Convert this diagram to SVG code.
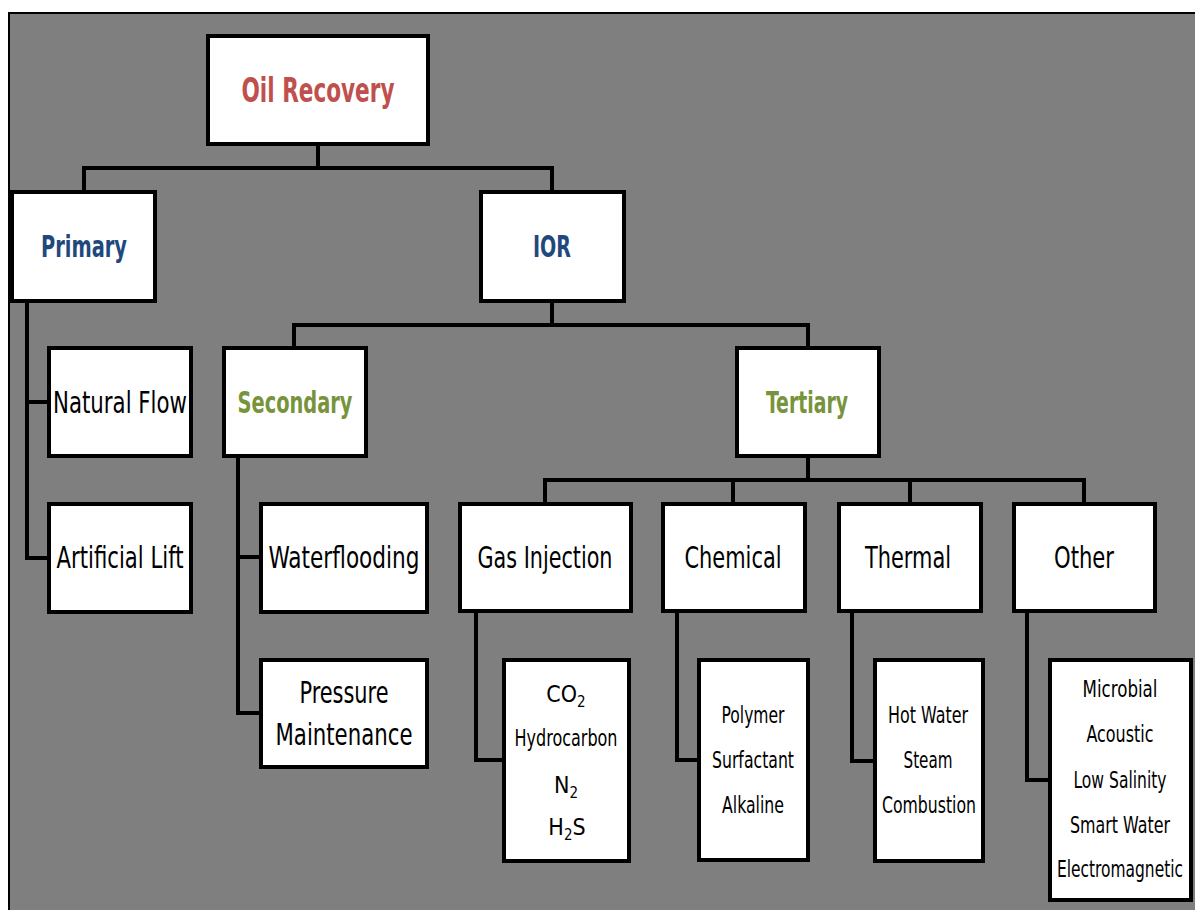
<svg xmlns="http://www.w3.org/2000/svg" width="1195" height="910" viewBox="0 0 1195 910">
<style>
.box{fill:#fff;stroke:#000;stroke-width:4}
.con{fill:none;stroke:#000;stroke-width:4;stroke-linecap:square}
text{font-family:"Liberation Sans Narrow","DejaVu Sans Condensed","Liberation Sans",sans-serif;text-anchor:middle;fill:#000}
.big{font-size:30px}
.sm{font-size:23px}
.red{fill:#c0504d;font-size:33px;font-weight:bold}
.blue{fill:#1f497d;font-weight:bold}
.green{fill:#77933c;font-weight:bold}
</style>
<rect x="0" y="0" width="1195" height="910" fill="#fff"/>
<rect x="9" y="13" width="1200" height="910" fill="#7f7f7f" stroke="#000" stroke-width="2"/>
<g id="connectors">
<path class="con" d="M318 146V168M84 190V168H552V190"/>
<path class="con" d="M27 303V558H47M27 402H47"/>
<path class="con" d="M552 303V325M294 346V325H808V346"/>
<path class="con" d="M238 458V713H259M238 557H259"/>
<path class="con" d="M808 458V480M545 502V480H1084V502M733 480V502M910 480V502"/>
<path class="con" d="M476 613V760H502"/>
<path class="con" d="M677 613V760H697"/>
<path class="con" d="M852 613V761H873"/>
<path class="con" d="M1027 613V780H1048"/>
</g>
<g id="oil-recovery"><rect class="box" x="208" y="36" width="220" height="108"/><text class="red" x="318" y="102" textLength="153" lengthAdjust="spacingAndGlyphs">Oil Recovery</text></g>
<g id="primary"><rect class="box" x="12" y="192" width="143" height="109"/><text class="big blue" x="84" y="257" textLength="86" lengthAdjust="spacingAndGlyphs">Primary</text></g>
<g id="ior"><rect class="box" x="481" y="192" width="143" height="109"/><text class="big blue" x="552" y="257" textLength="38" lengthAdjust="spacingAndGlyphs">IOR</text></g>
<g id="natural-flow"><rect class="box" x="49" y="348" width="142" height="108"/><text class="big" x="120" y="413" textLength="134" lengthAdjust="spacingAndGlyphs">Natural Flow</text></g>
<g id="artificial-lift"><rect class="box" x="49" y="504" width="142" height="108"/><text class="big" x="120" y="568" textLength="127" lengthAdjust="spacingAndGlyphs">Artificial Lift</text></g>
<g id="secondary"><rect class="box" x="224" y="348" width="142" height="108"/><text class="big green" x="295" y="413" textLength="115" lengthAdjust="spacingAndGlyphs">Secondary</text></g>
<g id="tertiary"><rect class="box" x="737" y="348" width="142" height="108"/><text class="big green" x="807" y="413" textLength="82" lengthAdjust="spacingAndGlyphs">Tertiary</text></g>
<g id="waterflooding"><rect class="box" x="261" y="504" width="166" height="108"/><text class="big" x="344" y="568" textLength="151" lengthAdjust="spacingAndGlyphs">Waterflooding</text></g>
<g id="pressure-maintenance"><rect class="box" x="261" y="660" width="166" height="107"/><text class="big" x="344" y="703" textLength="89" lengthAdjust="spacingAndGlyphs">Pressure</text><text class="big" x="344" y="745" textLength="137" lengthAdjust="spacingAndGlyphs">Maintenance</text></g>
<g id="gas-injection"><rect class="box" x="460" y="504" width="171" height="107"/><text class="big" x="545" y="568" textLength="135" lengthAdjust="spacingAndGlyphs">Gas Injection</text></g>
<g id="chemical"><rect class="box" x="663" y="504" width="142" height="107"/><text class="big" x="733" y="568" textLength="97" lengthAdjust="spacingAndGlyphs">Chemical</text></g>
<g id="thermal"><rect class="box" x="839" y="504" width="142" height="107"/><text class="big" x="908" y="568" textLength="86" lengthAdjust="spacingAndGlyphs">Thermal</text></g>
<g id="other"><rect class="box" x="1014" y="504" width="141" height="107"/><text class="big" x="1084" y="568" textLength="60" lengthAdjust="spacingAndGlyphs">Other</text></g>
<g id="gas-list"><rect class="box" x="504" y="660" width="125" height="201"/>
<text class="sm" x="566" y="702">CO<tspan font-size="15" dy="5">2</tspan></text>
<text class="sm" x="566" y="746" textLength="103" lengthAdjust="spacingAndGlyphs">Hydrocarbon</text>
<text class="sm" x="566" y="793">N<tspan font-size="15" dy="5">2</tspan></text>
<text class="sm" x="567" y="835">H<tspan font-size="15" dy="5">2</tspan><tspan dy="-5">S</tspan></text>
</g>
<g id="chemical-list"><rect class="box" x="699" y="660" width="109" height="200"/>
<text class="sm" x="753" y="723" textLength="63" lengthAdjust="spacingAndGlyphs">Polymer</text>
<text class="sm" x="753" y="768" textLength="82" lengthAdjust="spacingAndGlyphs">Surfactant</text>
<text class="sm" x="753" y="813" textLength="62" lengthAdjust="spacingAndGlyphs">Alkaline</text>
</g>
<g id="thermal-list"><rect class="box" x="875" y="660" width="108" height="201"/>
<text class="sm" x="928" y="723" textLength="80" lengthAdjust="spacingAndGlyphs">Hot Water</text>
<text class="sm" x="928" y="768" textLength="49" lengthAdjust="spacingAndGlyphs">Steam</text>
<text class="sm" x="929" y="813" textLength="94" lengthAdjust="spacingAndGlyphs">Combustion</text>
</g>
<g id="other-list"><rect class="box" x="1050" y="660" width="141" height="240"/>
<text class="sm" x="1120" y="697" textLength="75" lengthAdjust="spacingAndGlyphs">Microbial</text>
<text class="sm" x="1120" y="742" textLength="67" lengthAdjust="spacingAndGlyphs">Acoustic</text>
<text class="sm" x="1120" y="788" textLength="93" lengthAdjust="spacingAndGlyphs">Low Salinity</text>
<text class="sm" x="1120" y="833" textLength="100" lengthAdjust="spacingAndGlyphs">Smart Water</text>
<text class="sm" x="1120" y="877" textLength="126" lengthAdjust="spacingAndGlyphs">Electromagnetic</text>
</g>
</svg>
